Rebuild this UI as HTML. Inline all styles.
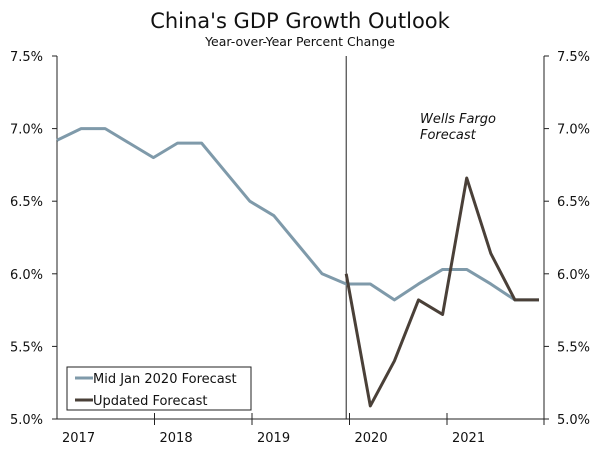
<!DOCTYPE html>
<html><head><meta charset="utf-8"><style>
body{margin:0;background:#fff;}
svg text{font-family:"DejaVu Sans","Liberation Sans",sans-serif;fill:#111;}
</style></head><body>
<svg width="600" height="453">
<text x="300" y="28" text-anchor="middle" font-size="21">China's GDP Growth Outlook</text>
<text x="300" y="46" text-anchor="middle" font-size="12.5">Year-over-Year Percent Change</text>
<g id="plot"></g>
<text x="420" y="123" font-size="13" font-style="italic">Wells Fargo</text>
<text x="420" y="139" font-size="13" font-style="italic">Forecast</text>
<g>
<rect x="67" y="367" width="184" height="43" fill="#fff" stroke="#222" stroke-width="1"/>
<line x1="75" y1="378" x2="93" y2="378" stroke="#7f9aaa" stroke-width="3"/>
<text x="93" y="383" font-size="13">Mid Jan 2020 Forecast</text>
<line x1="75" y1="400" x2="93" y2="400" stroke="#4a4038" stroke-width="3"/>
<text x="93" y="405" font-size="13">Updated Forecast</text>
</g>
</svg>
<script>
const midJan=[6.92,7.0,7.0,6.9,6.8,6.9,6.9,6.7,6.5,6.4,6.2,6.0,5.93,5.93,5.82,5.93,6.03,6.03,5.93,5.82,5.82];
const updated=[6.0,5.09,5.4,5.82,5.72,6.66,6.14,5.82,5.82];
const updatedStart=12;
const yTicks=[5.0,5.5,6.0,6.5,7.0,7.5];
const years=["2017","2018","2019","2020","2021"];
const L=57,R=544,T=56,B=419;
const x=i=>L+i*24.1;
const y=v=>B-(v-5)/2.5*(B-T);
const ns="http://www.w3.org/2000/svg";
const g=document.getElementById('plot');
function mk(t,a){const e=document.createElementNS(ns,t);for(const k in a)e.setAttribute(k,a[k]);g.appendChild(e);return e;}
const ax=mk('path',{d:`M${L},${T}V${B}H${R}V${T}`,fill:'none',stroke:'#222','stroke-width':1});


yTicks.forEach(v=>{
 mk('line',{x1:L-5,x2:L,y1:y(v),y2:y(v),stroke:'#222'});
 mk('line',{x1:R,x2:R+5,y1:y(v),y2:y(v),stroke:'#222'});
 const t1=mk('text',{x:43,y:y(v)+5,'text-anchor':'end','font-size':13});t1.textContent=v.toFixed(1)+'%';
 
 
 const t2=mk('text',{x:557,y:y(v)+5,'font-size':13});t2.textContent=v.toFixed(1)+'%';
 
 
});
years.forEach((yr,k)=>{
 const xb=L+k*97.5;
 if(k>0)mk('line',{x1:xb,x2:xb,y1:B-6,y2:B+6,stroke:'#222'});
 const t=mk('text',{x:xb+5,y:442,'font-size':13});t.textContent=yr;
 
 
});
mk('line',{x1:R,x2:R,y1:B,y2:B+6,stroke:'#222'});
const vl=mk('line',{x1:x(updatedStart),x2:x(updatedStart),y1:T,y2:B,stroke:'#222'});


const p1=mk('polyline',{points:midJan.map((v,i)=>x(i)+','+y(v)).join(' '),fill:'none',stroke:'#7f9aaa','stroke-width':3,'stroke-linejoin':'round'});


const p2=mk('polyline',{points:updated.map((v,i)=>x(i+updatedStart)+','+y(v)).join(' '),fill:'none',stroke:'#4a4038','stroke-width':3,'stroke-linejoin':'round'});


</script>
</body></html>
